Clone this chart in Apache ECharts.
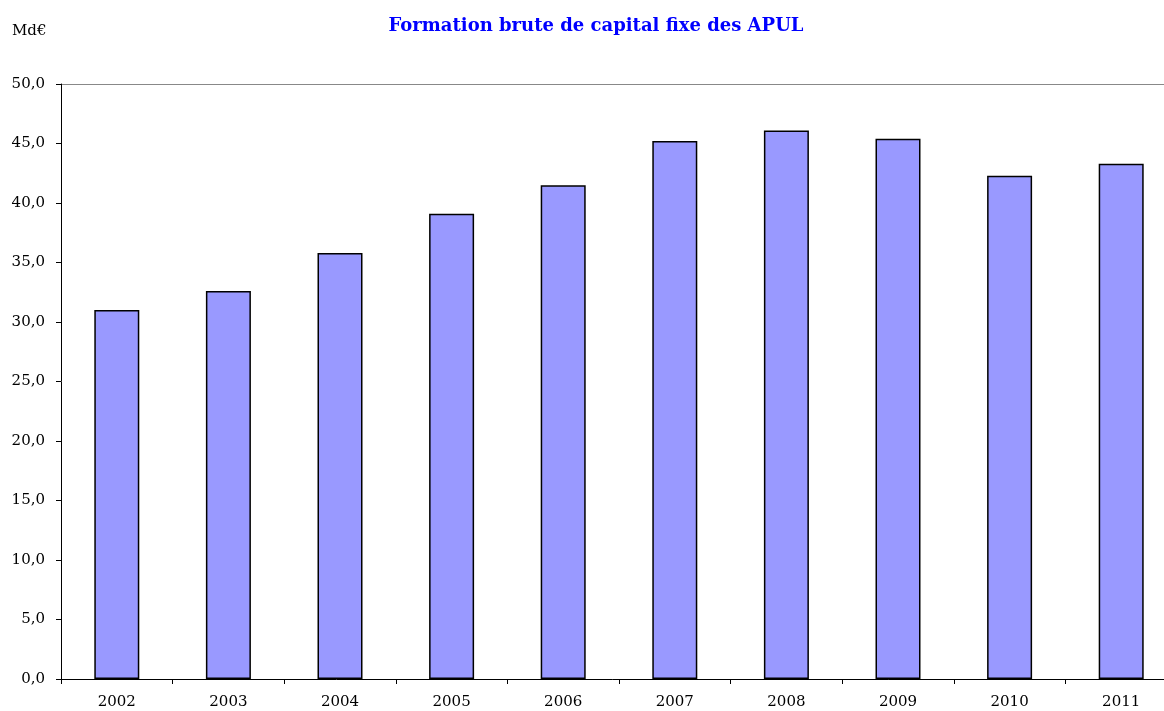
<!DOCTYPE html>
<html><head><meta charset="utf-8">
<script src="https://cdn.jsdelivr.net/npm/echarts@6/dist/echarts.min.js"></script>
<style>html,body{margin:0;padding:0;background:#fff}#c{width:1164px;height:711px}</style>
</head><body><div id="c"></div>
<script>
const categories = ['2002','2003','2004','2005','2006','2007','2008','2009','2010','2011'];
const values = [31.0, 32.6, 35.8, 39.1, 41.5, 45.2, 46.1, 45.4, 42.3, 43.3];
const titleText = 'Formation brute de capital fixe des APUL';
const unitText = 'Md€';

const font = '"DejaVu Serif", "Liberation Serif", serif';
const chart = echarts.init(document.getElementById('c'));
const splitColors = [];
for (let i = 0; i < 10; i++) splitColors.push('rgba(0,0,0,0)');
splitColors.push('#888888');
chart.setOption({
  animation: false,
  backgroundColor: '#fff',
  title: [{
    text: titleText, left: 591, top: 12, textAlign: 'center',
    textStyle: { color: '#0000ff', fontFamily: font, fontWeight: 'bold', fontSize: 18 }
  }, {
    text: unitText, left: 7, top: 19,
    textStyle: { color: '#000', fontFamily: font, fontWeight: 'normal', fontSize: 15 }
  }],
  grid: { left: 61, width: 1116, top: 84, bottom: 32, containLabel: false, outerBoundsMode: 'none' },
  xAxis: {
    type: 'category', data: categories,
    axisLine: { lineStyle: { color: '#000', width: 1 } },
    axisTick: { show: true, length: 5, inside: false, alignWithLabel: false, lineStyle: { color: '#000' } },
    axisLabel: { color: '#000', fontFamily: font, fontSize: 15, margin: 16 }
  },
  yAxis: {
    type: 'value', min: 0, max: 50, interval: 5,
    axisLine: { show: true, lineStyle: { color: '#000', width: 1 } },
    axisTick: { show: true, length: 5, lineStyle: { color: '#000' } },
    axisLabel: { color: '#000', fontFamily: font, fontSize: 15, margin: 16,
      formatter: v => v.toFixed(1).replace('.', ',') },
    splitLine: { show: true, lineStyle: { color: splitColors, width: 1 } }
  },
  series: [{
    type: 'bar', data: values, barWidth: 45,
    itemStyle: { color: '#9999ff', borderColor: '#000', borderWidth: 1.5 }
  }]
});
</script></body></html>
